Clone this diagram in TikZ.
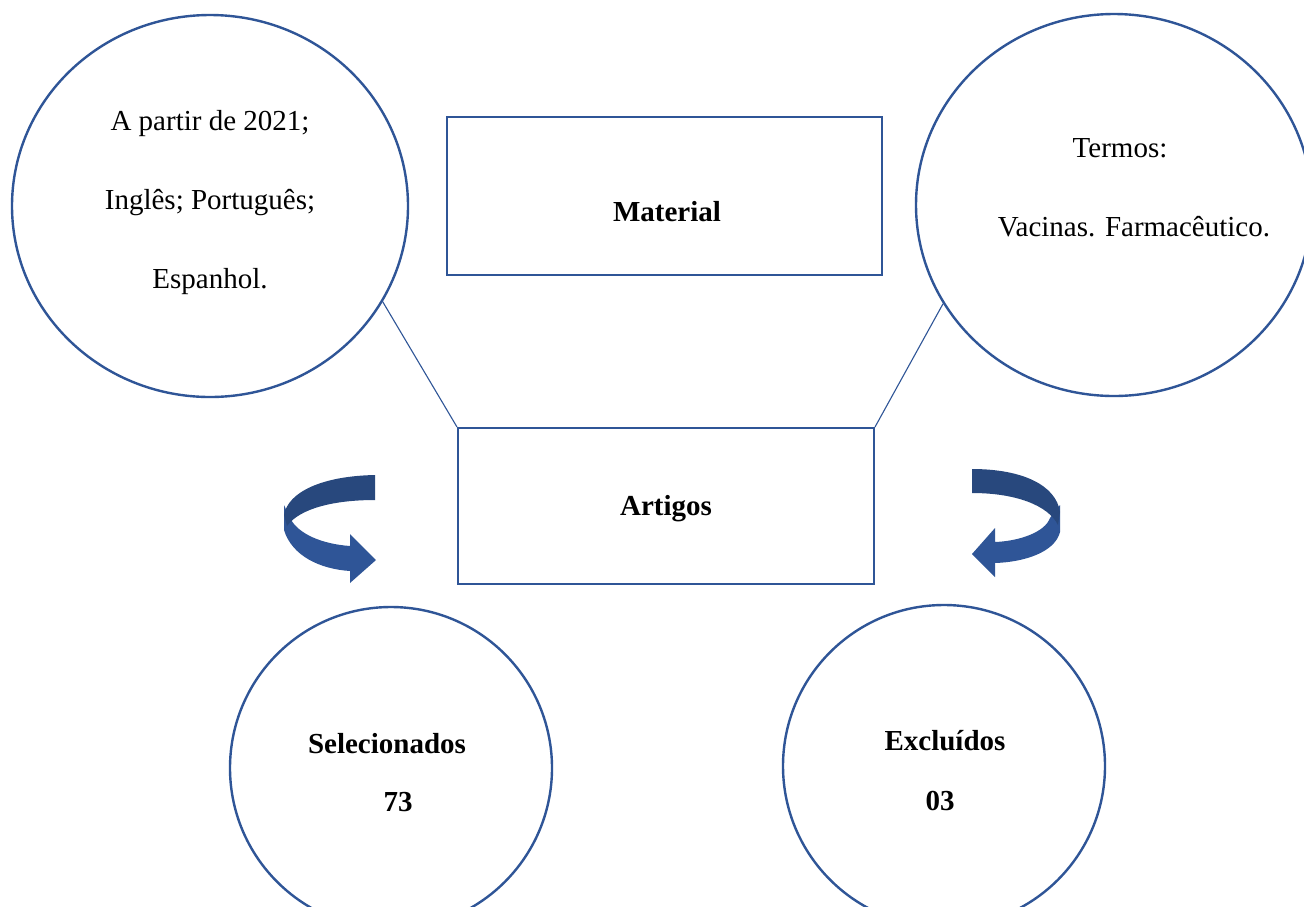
\documentclass[tikz,border=0pt]{standalone}
\usepackage{fontspec}
\setmainfont{Liberation Serif}
\usetikzlibrary{shapes.geometric}
\definecolor{lineblue}{RGB}{47,85,151}
\definecolor{arrdark}{RGB}{40,72,125}
\definecolor{arrlight}{RGB}{47,85,151}
\tikzset{
  circ/.style={draw=lineblue, line width=2.4pt, ellipse, inner sep=0pt},
  boxnode/.style={draw=lineblue, line width=2pt, rectangle, inner sep=0pt},
  txt/.style={font=\fontsize{29}{29}\selectfont, inner sep=0pt, anchor=base},
  btxt/.style={font=\fontsize{29}{29}\selectfont\bfseries, inner sep=0pt, anchor=base},
  conn/.style={draw=lineblue, line width=1.1pt}
}
\begin{document}
\begin{tikzpicture}[x=1pt,y=-1pt]
\useasboundingbox (0,0) rectangle (1304,906);
\clip (0,0) rectangle (1304,906);
\fill[white] (0,0) rectangle (1304,906);
% circles
\node[circ, minimum width=396pt, minimum height=382pt] (lc) at (210,206) {};
\node[circ, minimum width=396pt, minimum height=382pt] (rc) at (1114,205) {};
\node[circ, minimum width=322pt, minimum height=322pt] (bl) at (391,768) {};
\node[circ, minimum width=322pt, minimum height=322pt] (br) at (944,766) {};
% boxes
\node[boxnode, minimum width=435pt, minimum height=158pt] (mat) at (664.5,196) {};
\node[boxnode, minimum width=416pt, minimum height=156pt] (art) at (666,506) {};
% texts
\node[txt] (l1) at (210,130) {A partir de 2021;};
\node[txt] (l2) at (210,209) {Inglês; Português;};
\node[txt] (l3) at (210,288) {Espanhol.};
\node[txt] (r1) at (1120,157) {Termos:};
\node[txt] (r2) at (1134,236) {Vacinas. Farmacêutico.};
\node[btxt] (mt) at (667,221) {Material};
\node[btxt] (at) at (666,515) {Artigos};
\node[btxt] (s1) at (387,753) {Selecionados};
\node[btxt] (s2) at (398,811) {73};
\node[btxt] (e1) at (945,750) {Excluídos};
\node[btxt] (e2) at (940,810) {03};
% connectors
\draw[conn] (lc.-29.5) -- (art.north west);
\draw[conn] (rc.210) -- (art.north east);
% left curved arrow
\fill[arrlight] (284,505) -- (284,530) .. controls (292,556) and (320,569) .. (350,571)
  -- (350,583) -- (376,560) -- (350,534) -- (350,546)
  .. controls (322,544) and (298,534) .. (290,518) -- cycle;
\fill[arrdark] (375,475) .. controls (322,476) and (288,492) .. (284,515)
  -- (287,526) .. controls (300,508) and (335,500) .. (375,500) -- cycle;
% right curved arrow
\fill[arrlight] (1060,505) -- (1060,532) .. controls (1055,552) and (1025,562) .. (995,563)
  -- (995,577) -- (972,554) -- (995,528) -- (995,542)
  .. controls (1020,541) and (1045,532) .. (1050,518) -- cycle;
\fill[arrdark] (972,469) .. controls (1022,469) and (1056,485) .. (1060,512)
  -- (1058,525) .. controls (1048,505) and (1015,493) .. (972,493) -- cycle;
\end{tikzpicture}
\end{document}
